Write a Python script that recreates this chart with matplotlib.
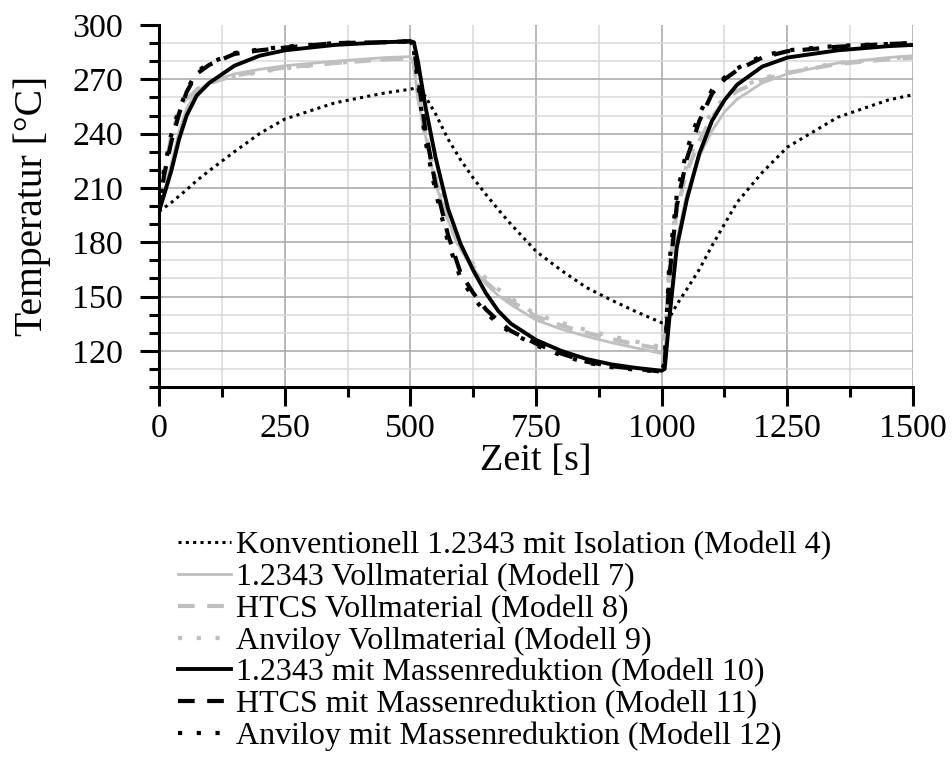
import numpy as np
import matplotlib
matplotlib.use("Agg")
import matplotlib.pyplot as plt
from matplotlib.ticker import MultipleLocator

# time axis [s], shared by all series
t = [0, 10, 25, 40, 55, 75, 100, 150, 200, 250, 350, 450, 500, 507, 515, 530, 550, 575,
     600, 625, 650, 675, 700, 750, 800, 850, 900, 950, 1000, 1006, 1015, 1030, 1050, 1075,
     1100, 1125, 1150, 1200, 1250, 1350, 1450, 1500]

# temperatures [°C]
m4 = [197, 199, 202, 205.5, 209, 214, 219.5, 230, 240, 248, 257, 262.5, 264.5, 265, 264,
      260.5, 251, 237, 225.5, 215.5, 206.5, 198, 190, 175, 164.5, 155, 148, 141.5, 135.5,
      135.5, 138, 145.5, 154, 165, 178, 190, 202, 218.5, 232.5, 249, 258.5, 261.5]
m7 = [197, 207, 224, 241, 254, 263, 268.5, 273, 275.5, 277.5, 280, 282, 282.5, 279, 259,
      239, 212, 192, 176, 165.5, 157, 150.5, 145.5, 137, 132, 128, 124.5, 121.5, 118.5,
      120, 142, 181, 207, 227.5, 241.5, 252, 259, 268, 273, 279, 282, 283]
m8 = [197, 215, 240, 252, 259, 264, 268, 272, 274.5, 276.5, 279, 281, 281.5, 279, 262,
      238, 215, 192, 176, 166.5, 158, 152, 147.5, 139, 134, 130, 126.5, 123.5, 121, 124,
      163, 198, 219, 236, 249, 258, 263.5, 269.5, 273.5, 278.5, 281, 282]
m9 = [197, 218, 243, 254, 260, 264.5, 268, 271.5, 274, 276, 279, 281, 281.5, 278, 265,
      240, 216, 193, 178, 168, 160, 154, 149, 140, 135.5, 131.5, 128, 125, 122, 126, 168,
      203, 223, 240, 252, 260, 265, 270.5, 274, 279, 281.5, 282.5]
m10 = [197, 206, 220, 237, 250, 261, 268, 277.5, 283, 286, 289, 290.5, 291, 290.5, 280,
       255, 227, 198.5, 179, 164.5, 152, 142, 135, 126, 120, 115.5, 112.5, 110.5, 109, 110,
       137, 177, 203.5, 229, 247, 258.5, 267, 277, 282, 286, 288.3, 289]
m11 = [197, 217, 236, 251, 263, 273, 278, 284, 286, 287.5, 290, 290.5, 291, 288, 272, 242,
       212, 184, 163, 152, 143, 136.5, 131, 124, 118.5, 114, 111.5, 110, 108.5, 112, 160,
       200, 226, 247, 262, 270, 275, 282, 285.5, 288, 289.5, 290]
m12 = [197, 220, 240, 253, 264, 274, 279, 284.5, 286.5, 288, 290, 290.5, 291, 286, 268,
       236, 208, 180, 160, 149.5, 141, 135, 130, 123, 117.5, 113.5, 111, 109.5, 108.5, 114,
       168, 206, 231, 251, 264, 271, 276, 283, 286, 288.5, 289.5, 290]

labels = ["Konventionell 1.2343 mit Isolation (Modell 4)",
          "1.2343 Vollmaterial (Modell 7)",
          "HTCS Vollmaterial (Modell 8)",
          "Anviloy Vollmaterial (Modell 9)",
          "1.2343 mit Massenreduktion (Modell 10)",
          "HTCS mit Massenreduktion (Modell 11)",
          "Anviloy mit Massenreduktion (Modell 12)"]

grey = "#bfbfbf"
plt.rcParams["font.family"] = ["Liberation Serif", "DejaVu Serif"]

fig = plt.figure(figsize=(9.52, 7.76), dpi=100)
ax = fig.add_axes([159 / 952, 1 - 387 / 776, (913 - 159) / 952, (387 - 25) / 776])

h4, = ax.plot(t, m4, color="black", lw=2.2, ls=(0, (1, 1.4)), zorder=3)
h7, = ax.plot(t, m7, color=grey, lw=2.0, zorder=2)
h8, = ax.plot(t, m8, color=grey, lw=3.0, ls=(0, (4, 3)), zorder=2)
h9, = ax.plot(t, m9, color=grey, lw=3.0, ls=(0, (1, 3.5)), zorder=2)
h10, = ax.plot(t, m10, color="black", lw=2.8, zorder=4)
h11, = ax.plot(t, m11, color="black", lw=3.0, ls=(0, (4, 3)), zorder=4)
h12, = ax.plot(t, m12, color="black", lw=3.0, ls=(0, (1, 3.5)), zorder=4)

ax.set_xlim(0, 1500)
ax.set_ylim(100, 300)
ax.xaxis.set_major_locator(MultipleLocator(250))
ax.xaxis.set_minor_locator(MultipleLocator(125))
ax.set_yticks([120, 150, 180, 210, 240, 270, 300])
ax.yaxis.set_minor_locator(MultipleLocator(10))

ax.grid(which="major", color="#a6a6a6", lw=1.1)
ax.grid(which="minor", color="#d9d9d9", lw=1.1)
ax.set_axisbelow(True)
ax.yaxis.get_gridlines()[-1].set_visible(False)
ax.xaxis.get_gridlines()[-1].set_visible(False)

for s in ["top", "right"]:
    ax.spines[s].set_visible(False)
for s in ["left", "bottom"]:
    ax.spines[s].set_linewidth(2.2)

ax.tick_params(which="major", direction="out", length=14, width=2.2, labelsize=24.5)
ax.tick_params(which="minor", direction="out", length=7, width=2.2)
ax.tick_params(axis="y", which="major", pad=12)
ax.tick_params(axis="x", which="major", pad=5)

ax.set_xlabel("Zeit [s]", fontsize=27.5, labelpad=0)
ax.set_ylabel("Temperatur [°C]", fontsize=28.5, labelpad=15)

fig.legend([h4, h7, h8, h9, h10, h11, h12], labels, loc="upper left",
           bbox_to_anchor=(178 / 952, 1 - 531 / 776), frameon=False,
           fontsize=23, handlelength=1.65, handletextpad=0.15,
           labelspacing=0.075, borderpad=0, borderaxespad=0)

fig.savefig("out.png", dpi=100)
